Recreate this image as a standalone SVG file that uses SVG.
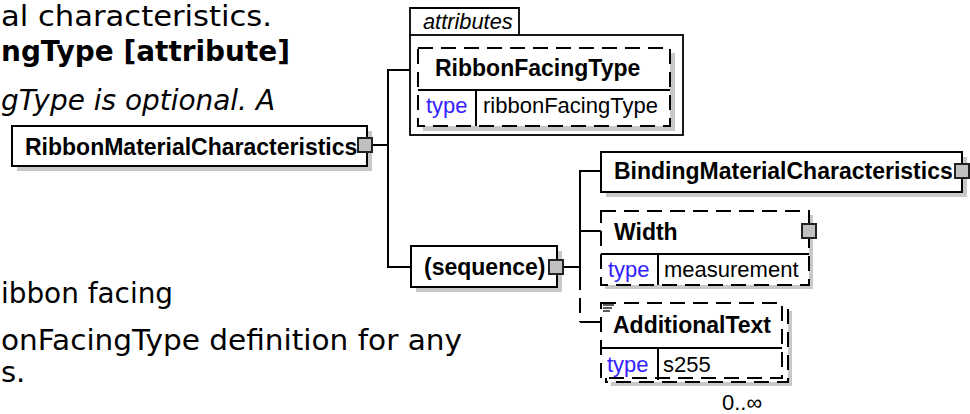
<svg xmlns="http://www.w3.org/2000/svg" width="970" height="414" viewBox="0 0 970 414">
<style>
.bg{font-family:"DejaVu Sans","Verdana",sans-serif;font-size:29px;fill:#000}
.bgb{font-weight:bold;font-size:28px}
.bgi{font-style:italic;font-size:28.5px}
.box{fill:#fff;stroke:#000;stroke-width:2}
.dbox{fill:#fff;stroke:#000;stroke-width:2;stroke-dasharray:15 8}
.sh{fill:#c8c8c8;stroke:none}
.sep{stroke:#000;stroke-width:2;fill:none}
.name{font-family:"Liberation Sans",Arial,sans-serif;font-weight:bold;font-size:23px;fill:#000}
.val{font-family:"Liberation Sans",Arial,sans-serif;font-size:22px;fill:#000}
.type{font-family:"Liberation Sans",Arial,sans-serif;font-size:22px;fill:#3322ff}
.btn{fill:#c0c0c0;stroke:#222;stroke-width:2}
.con{stroke:#000;stroke-width:2;fill:none}
.dcon{stroke:#000;stroke-width:2;fill:none;stroke-dasharray:15 8}
</style>

<g id="background-text">
<text class="bg" x="1" y="26" font-size="25" textLength="271" lengthAdjust="spacingAndGlyphs">al characteristics.</text>
<text class="bg bgb" x="1" y="61" textLength="289" lengthAdjust="spacingAndGlyphs">ngType [attribute]</text>
<text class="bg bgi" x="1" y="110" textLength="274" lengthAdjust="spacingAndGlyphs">gType is optional. A</text>
<text class="bg" x="1" y="303" textLength="172" lengthAdjust="spacingAndGlyphs">ibbon facing</text>
<text class="bg" x="1" y="350" textLength="461" lengthAdjust="spacingAndGlyphs">onFacingType definition for any</text>
<text class="bg" x="1" y="382">s.</text>
</g>

<g id="connectors">
<line class="con" x1="372" y1="145" x2="388" y2="145"/>
<polyline class="con" points="410,70 388,70 388,267 411,267"/>
<line class="con" x1="563" y1="267" x2="580" y2="267"/>
<polyline class="con" points="601,171 580,171 580,290"/>
<line class="con" x1="580" y1="231" x2="601" y2="231"/>
<line class="dcon" x1="580" y1="298" x2="580" y2="322"/>
<line class="con" x1="580" y1="322" x2="601" y2="322"/>
</g>

<g id="RibbonMaterialCharacteristics">
<rect class="sh" x="17" y="131" width="355" height="40"/>
<rect class="box" x="12" y="126" width="355" height="40"/>
<text class="name" x="25" y="154.5">RibbonMaterialCharacteristics</text>
<rect class="btn" x="358" y="138" width="14" height="14"/>
</g>

<g id="attributes">
<path d="M410,35 V8 H519 V35" fill="#fff" stroke="#000" stroke-width="1.8"/>
<rect x="410" y="35" width="273" height="100" fill="#fff" stroke="#000" stroke-width="1.8"/>
<text x="423" y="29" font-family="Liberation Sans, Arial, sans-serif" font-style="italic" font-size="21.8" fill="#000">attributes</text>
</g>

<g id="RibbonFacingType">
<rect class="sh" x="423" y="53" width="252" height="78"/>
<rect class="dbox" x="418" y="48" width="252" height="78"/>
<line class="sep" x1="418" y1="90" x2="670" y2="90"/>
<line class="sep" x1="476" y1="90" x2="476" y2="126"/>
<text class="name" x="435" y="76">RibbonFacingType</text>
<text class="type" x="426" y="113">type</text>
<text class="val" x="483" y="113">ribbonFacingType</text>
</g>

<g id="sequence">
<rect class="sh" x="416" y="251" width="146" height="41"/>
<rect class="box" x="411" y="246" width="146" height="41"/>
<text class="name" x="424" y="275">(sequence)</text>
<rect class="btn" x="549" y="260" width="14" height="14"/>
</g>

<g id="BindingMaterialCharacteristics">
<rect class="sh" x="606" y="157" width="361" height="40"/>
<rect class="box" x="601" y="152" width="361" height="40"/>
<text class="name" x="614" y="178.5">BindingMaterialCharacteristics</text>
<rect class="btn" x="955" y="164" width="14" height="14"/>
</g>

<g id="Width">
<rect class="sh" x="605" y="215" width="208" height="74"/>
<rect class="dbox" x="601" y="211" width="208" height="74"/>
<line class="sep" x1="601" y1="254" x2="809" y2="254"/>
<line class="sep" x1="658" y1="254" x2="658" y2="285"/>
<text class="name" x="614" y="240">Width</text>
<rect class="btn" x="802" y="224" width="14" height="14"/>
<text class="type" x="608" y="277">type</text>
<text class="val" x="664" y="277">measurement</text>
</g>

<g id="AdditionalText">
<rect class="sh" x="611" y="311" width="181" height="75"/>
<rect class="dbox" x="606" y="307" width="182" height="75"/>
<rect class="dbox" x="601" y="303" width="181" height="75"/>
<line class="sep" x1="601" y1="348" x2="782" y2="348"/>
<line class="sep" x1="658" y1="348" x2="658" y2="380"/>
<g stroke="#000" stroke-width="1.3">
<line x1="603" y1="305" x2="614" y2="305"/>
<line x1="603" y1="308" x2="612" y2="308"/>
<line x1="603" y1="311" x2="610" y2="311"/>
</g>
<text class="name" x="613" y="333">AdditionalText</text>
<text class="type" x="607" y="372">type</text>
<text class="val" x="663" y="372">s255</text>
<text class="val" x="722" y="410" font-size="19">0..∞</text>
</g>
</svg>
